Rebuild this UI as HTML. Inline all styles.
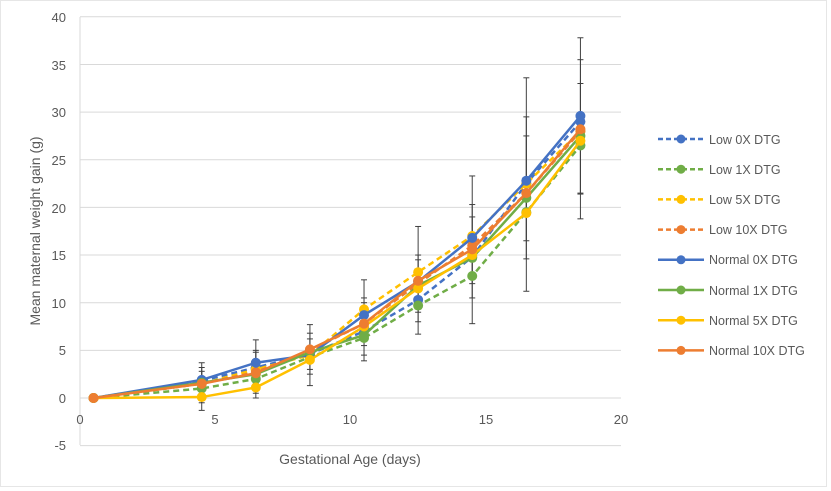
<!DOCTYPE html>
<html><head><meta charset="utf-8"><style>
html,body{margin:0;padding:0;background:#fff;}
svg{display:block;font-family:"Liberation Sans",sans-serif;}
</style></head><body>
<svg id="s" width="831" height="491" viewBox="0 0 831 491" xmlns="http://www.w3.org/2000/svg">
<rect x="0.5" y="0.5" width="826" height="486" fill="#fff" stroke="#e6e6e6"/>
<g id="grid" stroke="#d9d9d9" stroke-width="1"></g>
<line x1="80" y1="17" x2="80" y2="445" stroke="#d9d9d9"/>
<g fill="#595959" font-size="13" text-anchor="end">
<text x="66" y="22">40</text><text x="66" y="70">35</text><text x="66" y="117">30</text>
<text x="66" y="165">25</text><text x="66" y="213">20</text><text x="66" y="260">15</text>
<text x="66" y="308">10</text><text x="66" y="355">5</text><text x="66" y="403">0</text>
<text x="66" y="450">-5</text>
</g>
<g fill="#595959" font-size="13" text-anchor="middle">
<text x="80" y="424">0</text><text x="215" y="424">5</text><text x="350" y="424">10</text>
<text x="486" y="424">15</text><text x="621" y="424">20</text>
<text x="350" y="464" font-size="14">Gestational Age (days)</text>
</g>
<text transform="translate(40,231) rotate(-90)" fill="#595959" font-size="14" text-anchor="middle">Mean maternal weight gain (g)</text>
<g id="err" stroke="#404040" stroke-width="1"></g>
<g id="series"></g>
<g id="leg"></g>
<g fill="#595959" font-size="12.5">
<text x="709" y="144">Low 0X DTG</text>
<text x="709" y="174">Low 1X DTG</text>
<text x="709" y="204">Low 5X DTG</text>
<text x="709" y="234">Low 10X DTG</text>
<text x="709" y="264">Normal 0X DTG</text>
<text x="709" y="295">Normal 1X DTG</text>
<text x="709" y="325">Normal 5X DTG</text>
<text x="709" y="355">Normal 10X DTG</text>
</g>
</svg>
<script>
var NS="http://www.w3.org/2000/svg";
function el(p,t,a){var e=document.createElementNS(NS,t);for(var k in a)e.setAttribute(k,a[k]);document.getElementById(p).appendChild(e);return e;}
function X(v){return 80+v*27.05;}function Y(v){return 398-v*9.53;}
for(var g=-5;g<=40;g+=5){el("grid","line",{x1:80,x2:621,y1:Y(g),y2:Y(g)});}
var xs=[0.5,4.5,6.5,8.5,10.5,12.5,14.5,16.5,18.5];
var S=[
["#4472c4",1,[0,1.8,3.2,4.6,7.0,10.3,14.8,22.5,29.0]],
["#70ad47",1,[0,1.0,2.0,4.3,6.3,9.7,12.8,19.5,26.5]],
["#ffc000",1,[0,1.5,3.0,4.5,9.3,13.2,17.0,22.5,28.0]],
["#ed7d31",1,[0,1.5,2.7,5.0,7.8,12.0,16.0,21.5,28.0]],
["#4472c4",0,[0,1.9,3.7,4.5,8.7,12.2,16.8,22.8,29.6]],
["#70ad47",0,[0,1.6,2.5,4.8,6.6,11.8,14.7,21.0,27.5]],
["#ffc000",0,[0,0.1,1.1,4.0,7.5,11.5,15.0,19.4,27.0]],
["#ed7d31",0,[0,1.5,2.6,5.1,7.8,12.3,15.6,21.5,28.2]]];
var E=[[0,0],[-1.3,3.7],[0,6.1],[1.3,7.7],[3.9,12.4],[6.7,18.0],[7.8,23.3],[11.2,33.6],[18.8,37.8]];
var E2=[[0,0],[-0.5,3.2],[0.5,5],[2.5,6.8],[4.5,10.5],[8,15],[10.5,20.3],[14.6,29.5],[21.5,35.5]];
var E3=[[0,0],[0,2.8],[1.5,4.8],[3,6.2],[5.5,10],[9,14.5],[12,19],[16.5,27.5],[21.4,33]];
[E,E2,E3].forEach(function(A){for(var i=1;i<9;i++){var x=X(xs[i]);el("err","line",{x1:x,x2:x,y1:Y(A[i][0]),y2:Y(A[i][1])});
el("err","line",{x1:x-3,x2:x+3,y1:Y(A[i][0]),y2:Y(A[i][0])});el("err","line",{x1:x-3,x2:x+3,y1:Y(A[i][1]),y2:Y(A[i][1])});}});
S.forEach(function(s,j){var pts=s[2].map(function(v,i){return X(xs[i])+","+Y(v);}).join(" ");
var a={points:pts,fill:"none",stroke:s[0],"stroke-width":2.5};if(s[1])a["stroke-dasharray"]="6,4";el("series","polyline",a);
s[2].forEach(function(v,i){el("series","circle",{cx:X(xs[i]),cy:Y(v),r:5,fill:s[0]});});
var ly=139+j*30.2;var b={x1:658,x2:704,y1:ly,y2:ly,stroke:s[0],"stroke-width":2.5};if(s[1])b["stroke-dasharray"]="5,3";
el("leg","line",b);el("leg","circle",{cx:681,cy:ly,r:4.5,fill:s[0]});});
</script>
</body></html>
